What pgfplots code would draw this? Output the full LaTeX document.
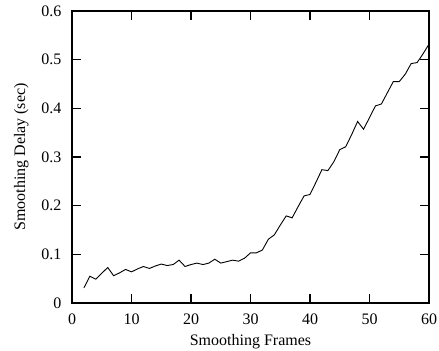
\documentclass[border=0pt]{standalone}
\usepackage{fontspec}
\setmainfont{Liberation Serif}
\usepackage{pgfplots}
\pgfplotsset{compat=1.18}
\begin{document}
\begin{tikzpicture}
\begin{axis}[
  scale only axis,
  width=357pt, height=292pt,
  xmin=0, xmax=60, ymin=0, ymax=0.6,
  xtick={0,10,...,60},
  ytick={0,0.1,...,0.6},
  font=\fontsize{16}{19}\selectfont,
  /pgf/number format/assume math mode=true,
  yticklabel style={/pgf/number format/fixed,/pgf/number format/precision=1},
  tick align=inside,
  major tick length=9pt,
  axis line style={line width=1.3pt},
  every tick/.style={line width=1.3pt, black},
  xlabel={Smoothing Frames},
  ylabel={Smoothing Delay (sec)},
  xlabel style={yshift=-3pt},
  ylabel style={yshift=6pt},
  xticklabel style={yshift=-7pt},
  yticklabel style={xshift=-7pt},
]
\addplot[black, line width=0.9pt, mark=none] coordinates {
(2,0.031) (3,0.055) (4,0.049) (5,0.061) (6,0.073) (7,0.056) (8,0.062) (9,0.069)
(10,0.064) (11,0.070) (12,0.075) (13,0.071) (14,0.076) (15,0.080) (16,0.077)
(17,0.079) (18,0.088) (19,0.075) (20,0.079) (21,0.082) (22,0.079) (23,0.082)
(24,0.090) (25,0.082) (26,0.085) (27,0.088) (28,0.086) (29,0.092) (30,0.103)
(31,0.103) (32,0.109) (33,0.131) (34,0.140) (35,0.160) (36,0.179) (37,0.175)
(38,0.198) (39,0.220) (40,0.223) (41,0.248) (42,0.274) (43,0.272) (44,0.290)
(45,0.315) (46,0.321) (47,0.346) (48,0.373) (49,0.357) (50,0.381) (51,0.405)
(52,0.409) (53,0.432) (54,0.455) (55,0.455) (56,0.470) (57,0.492) (58,0.494)
(59,0.512) (60,0.532)
};
\coordinate (ll) at (rel axis cs:0,0);
\coordinate (ur) at (rel axis cs:1,1);
\end{axis}
\pgfresetboundingbox
\path ([shift={(-72pt,-47pt)}]ll) rectangle ([shift={(10pt,11pt)}]ur);
\end{tikzpicture}
\end{document}
